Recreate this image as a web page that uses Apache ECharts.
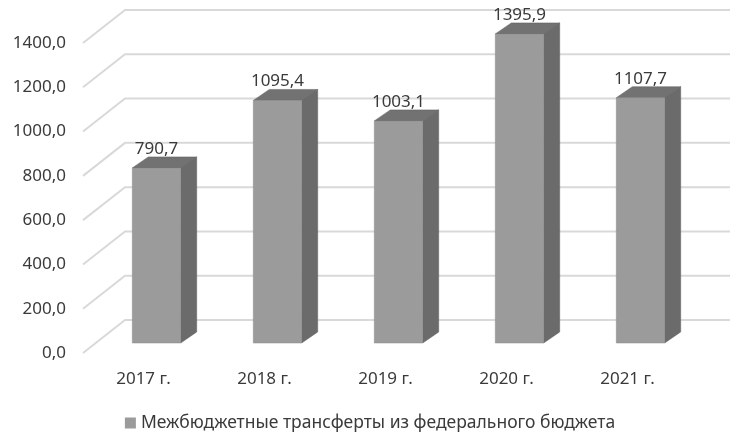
<!DOCTYPE html>
<html>
<head>
<meta charset="utf-8">
<script src="https://cdn.jsdelivr.net/npm/echarts@6/dist/echarts.min.js"></script>
<style>
  html, body { margin: 0; padding: 0; background: #fff; }
  #chart { width: 740px; height: 447px; }
</style>
</head>
<body>
<div id="chart"></div>
<script>
const years = ['2017 г.', '2018 г.', '2019 г.', '2020 г.', '2021 г.'];
const transfers = [790.7, 1095.4, 1003.1, 1395.9, 1107.7];
const yTicks = [0, 200, 400, 600, 800, 1000, 1200, 1400];
const seriesName = 'Межбюджетные трансферты из федерального бюджета';

// 3D look: depth offset of back wall, bar position inside depth
const wallDx = 42, wallDy = 33;
const barDx = 13, barDy = 10;
const sideDx = 16, sideDy = 11;

const fmt = v => v.toFixed(1).replace('.', ',');

let chart = echarts.init(document.getElementById('chart'));

function renderGrid(params, api) {
  let cs = params.coordSys;
  let p = api.coord([0, api.value(1)]);
  let x0 = cs.x, y = p[1];
  return {
    type: 'polyline',
    shape: { points: [[x0, y], [x0 + wallDx, y - wallDy], [x0 + cs.width + wallDx, y - wallDy]] },
    style: { stroke: '#d9d9d9', lineWidth: 2, fill: null },
    silent: true
  };
}

function renderBar(params, api) {
  let i = api.value(0), v = api.value(1);
  let top = api.coord([i, v]);
  let base = api.coord([i, 0]);
  let w = api.size([1, 0])[0] * 0.4;
  let l = top[0] - w / 2 + barDx, r = l + w;
  let t = top[1] - barDy, b = base[1] - barDy;
  return {
    type: 'group',
    children: [
      {
        type: 'polygon',
        shape: { points: [[r, t], [r + sideDx, t - sideDy], [r + sideDx, b - sideDy], [r, b]] },
        style: { fill: '#6b6b6b', stroke: '#5e5e5e', lineWidth: 0.5 }
      },
      {
        type: 'polygon',
        shape: { points: [[l, t], [r, t], [r + sideDx, t - sideDy], [l + sideDx, t - sideDy]] },
        style: { fill: '#727272', stroke: '#5e5e5e', lineWidth: 0.5 }
      },
      {
        type: 'rect',
        shape: { x: l, y: t, width: w, height: b - t },
        style: { fill: '#9b9b9b', stroke: '#8a8a8a', lineWidth: 0.5 }
      },
      {
        type: 'text',
        x: l + w / 2, y: t - 19,
        style: {
          text: fmt(v), align: 'center', verticalAlign: 'middle',
          fill: '#3a3a3a', font: '17px "Noto Sans"'
        }
      }
    ]
  };
}

chart.setOption({
  animation: false,
  textStyle: { fontFamily: 'Noto Sans' },
  grid: { left: 83, right: 52, top: 43, bottom: 94, containLabel: false },
  legend: {
    data: [seriesName],
    bottom: 10,
    left: 'center',
    icon: 'rect',
    itemWidth: 11,
    itemHeight: 11,
    itemGap: 5,
    textStyle: { color: '#3a3a3a', fontSize: 17.5, fontFamily: 'Noto Sans' }
  },
  xAxis: {
    type: 'category',
    data: years,
    axisLine: { show: false },
    axisTick: { show: false },
    axisLabel: { color: '#3a3a3a', fontSize: 17, margin: 18 }
  },
  yAxis: {
    type: 'value',
    min: 0,
    max: 1400,
    interval: 200,
    axisLine: { show: false },
    axisTick: { show: false },
    splitLine: { show: false },
    axisLabel: { color: '#3a3a3a', fontSize: 17, margin: 17, formatter: fmt }
  },
  series: [
    {
      type: 'custom',
      name: 'grid',
      silent: true,
      z: 1,
      renderItem: renderGrid,
      data: yTicks.map(t => [0, t])
    },
    {
      type: 'custom',
      name: seriesName,
      z: 2,
      itemStyle: { color: '#9b9b9b' },
      renderItem: renderBar,
      encode: { x: 0, y: 1 },
      data: transfers.map((v, i) => [i, v])
    }
  ]
});
</script>
</body>
</html>
